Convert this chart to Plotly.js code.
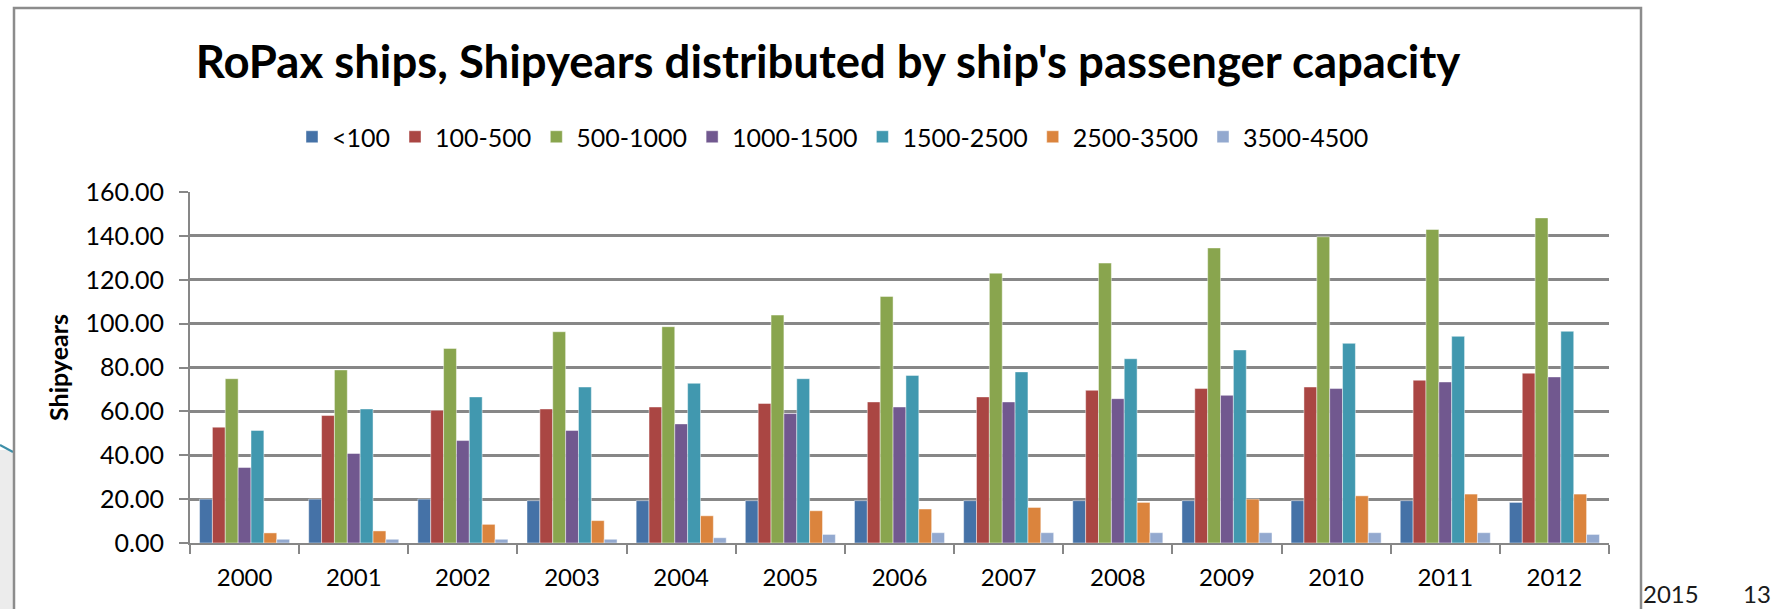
<!DOCTYPE html>
<html>
<head>
<meta charset="utf-8">
<script src="https://cdn.plot.ly/plotly-3.0.1.min.js"></script>
<style>
  html, body { margin: 0; padding: 0; background: #ffffff; }
  #chart { width: 1779px; height: 609px; }
</style>
</head>
<body>
<div id="chart"></div>
<script>
// ---- Data ----
const years = ['2000','2001','2002','2003','2004','2005','2006','2007','2008','2009','2010','2011','2012'];
const seriesNames = ['<100','100-500','500-1000','1000-1500','1500-2500','2500-3500','3500-4500'];
const capLt100     = [20.0, 20.0, 20.0, 19.3, 19.3, 19.3, 19.3, 19.3, 19.3, 19.3, 19.3, 19.3, 18.5];
const cap100_500   = [52.8, 58.1, 60.5, 61.1, 62.0, 63.6, 64.3, 66.6, 69.6, 70.4, 71.1, 74.2, 77.4];
const cap500_1000  = [74.9, 78.9, 88.7, 96.3, 98.6, 103.9, 112.4, 123.0, 127.6, 134.5, 139.6, 142.9, 148.2];
const cap1000_1500 = [34.4, 40.8, 46.7, 51.3, 54.3, 59.0, 62.0, 64.3, 65.8, 67.3, 70.4, 73.4, 75.7];
const cap1500_2500 = [51.3, 61.1, 66.6, 71.1, 72.8, 74.9, 76.4, 78.0, 84.0, 88.0, 91.0, 94.2, 96.5];
const cap2500_3500 = [4.6, 5.5, 8.5, 10.2, 12.4, 14.7, 15.5, 16.2, 18.5, 20.0, 21.5, 22.3, 22.3];
const cap3500_4500 = [1.7, 1.7, 1.7, 1.7, 2.4, 3.9, 4.7, 4.7, 4.7, 4.7, 4.7, 4.7, 3.9];
const seriesValues = [capLt100, cap100_500, cap500_1000, cap1000_1500, cap1500_2500, cap2500_3500, cap3500_4500];
const seriesColors = ['#4572A7','#AA4643','#89A54E','#71588F','#4198AF','#DB843D','#93A9CF'];
const yTickVals = [0, 20, 40, 60, 80, 100, 120, 140, 160];

// ---- Layout geometry ----
const W = 1779, H = 609;
const M = { l: 190, r: 170, t: 192, b: 66 };
const PW = W - M.l - M.r, PH = H - M.t - M.b;
const px = x => (x - M.l) / PW;           // pixel x -> paper x
const py = y => (H - M.b - y) / PH;       // pixel y -> paper y

const FONT = 'Lato, "Open Sans", "Liberation Sans", sans-serif';
const GRID = '#878787';

const traces = seriesNames.map((name, i) => ({
  type: 'bar',
  name: name,
  x: years,
  y: seriesValues[i],
  marker: { color: seriesColors[i], line: { color: 'rgba(255,255,255,0.45)', width: 1 } },
  hoverinfo: 'skip'
}));

const layout = {
  width: W, height: H,
  margin: M,
  paper_bgcolor: '#ffffff',
  plot_bgcolor: '#ffffff',
  font: { family: FONT, color: '#000000', size: 24 },
  barmode: 'group',
  bargap: 0.175,
  bargroupgap: 0,
  title: {
    text: "<b>RoPax ships, Shipyears distributed by ship's passenger capacity</b>",
    font: { family: FONT, size: 45.5, color: '#000000' },
    x: 828 / W, xanchor: 'center',
    y: 1 - 62 / H, yanchor: 'middle'
  },
  showlegend: true,
  legend: {
    orientation: 'h',
    x: px(833), xanchor: 'center',
    y: py(137), yanchor: 'middle',
    font: { family: FONT, size: 25, color: '#000000' },
    itemgap: 16,
    bgcolor: 'rgba(0,0,0,0)'
  },
  xaxis: {
    type: 'category',
    showline: true, linecolor: GRID, linewidth: 2,
    ticks: 'outside', tickson: 'boundaries', ticklen: 9, tickwidth: 2, tickcolor: GRID,
    showgrid: false, zeroline: false,
    tickfont: { family: FONT, size: 24, color: '#000000' },
    ticklabelstandoff: 12,
    fixedrange: true
  },
  yaxis: {
    range: [0, 160],
    tickvals: yTickVals,
    tickformat: '.2f',
    showline: true, linecolor: GRID, linewidth: 2,
    ticks: 'outside', ticklen: 9, tickwidth: 2, tickcolor: GRID,
    showgrid: true, gridcolor: GRID, gridwidth: 2.5,
    zeroline: false,
    tickfont: { family: FONT, size: 25, color: '#000000' },
    ticklabelstandoff: 10,
    title: { text: '<b>Shipyears</b>', font: { family: FONT, size: 25, color: '#000000' }, standoff: 10 },
    fixedrange: true
  },
  shapes: [
    // chart frame
    { type: 'rect', xref: 'paper', yref: 'paper', layer: 'above',
      x0: px(14), x1: px(1641), y0: py(640), y1: py(8),
      line: { color: '#8c8c8c', width: 2.5 }, fillcolor: 'rgba(0,0,0,0)' },
    // slide background fragments on the left
    { type: 'rect', xref: 'paper', yref: 'paper', layer: 'below',
      x0: px(0), x1: px(13), y0: py(609), y1: py(450),
      line: { width: 0 }, fillcolor: '#ececec' },
    { type: 'line', xref: 'paper', yref: 'paper', layer: 'below',
      x0: px(0), x1: px(13), y0: py(445), y1: py(452),
      line: { color: '#3e8fa8', width: 2 } }
  ],
  annotations: [
    { text: '2015', xref: 'paper', yref: 'paper', x: px(1641), y: py(593),
      xanchor: 'left', yanchor: 'middle', showarrow: false,
      font: { family: FONT, size: 24, color: '#1a1a1a' } },
    { text: '13', xref: 'paper', yref: 'paper', x: px(1741), y: py(593),
      xanchor: 'left', yanchor: 'middle', showarrow: false,
      font: { family: FONT, size: 24, color: '#1a1a1a' } }
  ]
};

Plotly.newPlot('chart', traces, layout, { displayModeBar: false, responsive: false });
</script>
</body>
</html>
